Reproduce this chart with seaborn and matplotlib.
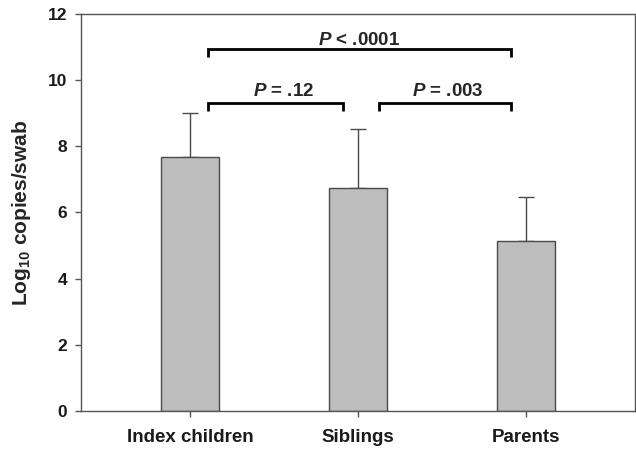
import matplotlib
matplotlib.use("Agg")
import matplotlib.pyplot as plt
import seaborn as sns
import pandas as pd
import numpy as np

# ---- data ----
categories = ["Index children", "Siblings", "Parents"]
means = [7.68, 6.74, 5.14]
sd_upper = [1.34, 1.78, 1.34]
# comparisons: (left group, right group, bracket height, label)
cmp_left = [0, 1, 0]
cmp_right = [1, 2, 2]
cmp_height = [9.31, 9.31, 10.94]
cmp_label = ["= .12", "= .003", "< .0001"]
yticks = [0, 2, 4, 6, 8, 10, 12]

sns.set_style("white")
plt.rcParams["font.family"] = ["Liberation Sans", "DejaVu Sans"]
plt.rcParams["font.weight"] = "bold"
plt.rcParams["mathtext.fontset"] = "custom"
plt.rcParams["mathtext.rm"] = "Liberation Sans:bold"
plt.rcParams["mathtext.bf"] = "Liberation Sans:bold"
plt.rcParams["mathtext.it"] = "Liberation Sans:italic:bold"
plt.rcParams["mathtext.default"] = "bf"

df = pd.DataFrame({"group": categories, "value": means})

fig = plt.figure(figsize=(6.36, 4.5), dpi=100)
ax = fig.add_axes([0.127, 0.087, 0.871, 0.882])

edge = "#4a4a4a"
sns.barplot(data=df, x="group", y="value", order=categories, color="#bdbdbd",
            saturation=1, width=0.345, errorbar=None, edgecolor=edge,
            linewidth=1.0, ax=ax)

xpos = np.arange(len(categories))
ax.errorbar(xpos, means, yerr=[np.zeros(len(means)), sd_upper], fmt="none",
            ecolor=edge, elinewidth=1.0, capsize=6, capthick=1.0, zorder=1)
for p in ax.patches:
    p.set_zorder(2)

# significance brackets
drop = 0.24
for l, r, h, lab in zip(cmp_left, cmp_right, cmp_height, cmp_label):
    x0 = l + (0.125 if l == 1 else 0.107)
    x1 = r - 0.089
    ax.plot([x0, x0, x1, x1], [h - drop, h, h, h - drop], color="black",
            lw=2.0, solid_capstyle="butt", solid_joinstyle="miter",
            clip_on=False, zorder=3)
    span = r - l
    dx = 0.0 if span == 2 else (0.048 if l == 0 else 0.018)
    dy = 0.12 if span == 2 else 0.22
    ax.text((x0 + x1) / 2 + dx, h + dy, r"$\it{P}$ " + lab,
            ha="center", va="baseline", fontsize=13.5, fontweight="bold")

ax.set_xlim(-0.65, 2.65)
ax.set_ylim(0, 12)
ax.set_yticks(yticks)
ax.set_yticklabels([str(t) for t in yticks])
ax.set_xlabel("")
ax.set_ylabel(r"Log$_{10}$ copies/swab", fontsize=15, fontweight="bold",
              labelpad=10)

for s in ax.spines.values():
    s.set_visible(True)
    s.set_color("#555555")
    s.set_linewidth(1.0)

ax.tick_params(axis="both", which="both", direction="out", length=4,
               width=1.0, color="#555555")
ax.tick_params(axis="x", pad=9, bottom=True, labelsize=13.5)
ax.tick_params(axis="y", pad=6, left=True, labelsize=12.5)
for t in ax.get_xticklabels() + ax.get_yticklabels():
    t.set_fontweight("bold")
    t.set_color("#1a1a1a")

fig.savefig("out.png", dpi=100)
